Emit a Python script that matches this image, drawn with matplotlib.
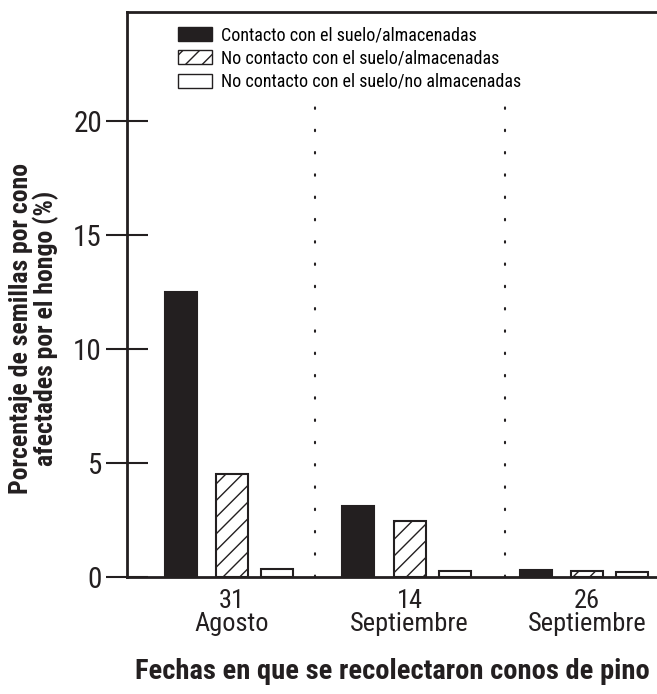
#!/usr/bin/env python3
"""Semillas afectadas por el hongo - barras agrupadas"""
import numpy as np
import matplotlib.pyplot as plt
from matplotlib.patches import Patch

DPI = 100
FIGSIZE = (6.57, 6.94)
INK = '#231f20'

plt.rcParams.update({
    'font.family': ['Roboto Condensed', 'DejaVu Sans'],
    'hatch.linewidth': 1.0,
    'hatch.color': INK,
})

# Data
fechas = ['31\nAgosto', '14\nSeptiembre', '26\nSeptiembre']
contacto_alm = [12.5, 3.1, 0.3]
no_contacto_alm = [4.5, 2.45, 0.25]
no_contacto_no_alm = [0.35, 0.25, 0.2]
etiquetas = ['Contacto con el suelo/almacenadas',
             'No contacto con el suelo/almacenadas',
             'No contacto con el suelo/no almacenadas']

x = np.arange(len(fechas))
w = 0.18

fig = plt.figure(figsize=FIGSIZE, dpi=DPI)
ax = fig.add_axes([0.1933, 0.1686, 1 - 0.1933, 0.9827 - 0.1686])

ax.bar(x - 0.29, contacto_alm, w, color=INK, edgecolor=INK, linewidth=1.5)
ax.bar(x, no_contacto_alm, w, color='white', edgecolor=INK,
       linewidth=1.5, hatch='//')
ax.bar(x + 0.255, no_contacto_no_alm, w, color='white', edgecolor=INK,
       linewidth=1.5)

# dotted separators between dates
for xs in (0.47, 1.54):
    ax.plot([xs, xs], [0, 21], color=INK, linestyle=(0, (0.7, 10)),
            linewidth=1.5, solid_capstyle='round', dash_capstyle='round')

ax.set_xlim(-0.592, 2.394)
ax.set_ylim(0, 24.8)

ax.set_yticks([0, 5, 10, 15, 20])
ax.tick_params(axis='y', direction='inout', length=30, width=1.5,
               labelsize=21, pad=3, colors=INK)
ax.set_xticks(x)
ax.set_xticklabels(fechas, fontsize=19, linespacing=0.9)
ax.tick_params(axis='x', length=0, pad=9, colors=INK)

for s in ['left', 'top', 'bottom']:
    ax.spines[s].set_linewidth(2)
    ax.spines[s].set_color(INK)
ax.spines['right'].set_visible(False)

ax.set_xlabel('Fechas en que se recolectaron conos de pino',
              fontsize=20.5, fontweight='bold', color=INK, labelpad=16)
fig.text(0.052, 0.527, 'Porcentaje de semillas por cono\nafectades por el hongo (%)',
         rotation=90, ha='center', va='center', fontsize=18.5,
         fontweight='bold', color=INK, linespacing=1.0)

handles = [Patch(facecolor=INK, edgecolor=INK, linewidth=1),
           Patch(facecolor='white', edgecolor=INK, linewidth=1, hatch='//'),
           Patch(facecolor='white', edgecolor=INK, linewidth=1)]
ax.legend(handles, etiquetas, loc='upper left', bbox_to_anchor=(0.096, 0.975),
          frameon=False, fontsize=13, handlelength=1.9, handleheight=0.8,
          handletextpad=0.5, labelspacing=0.3, borderpad=0, borderaxespad=0)

plt.savefig('out.png', dpi=DPI)
